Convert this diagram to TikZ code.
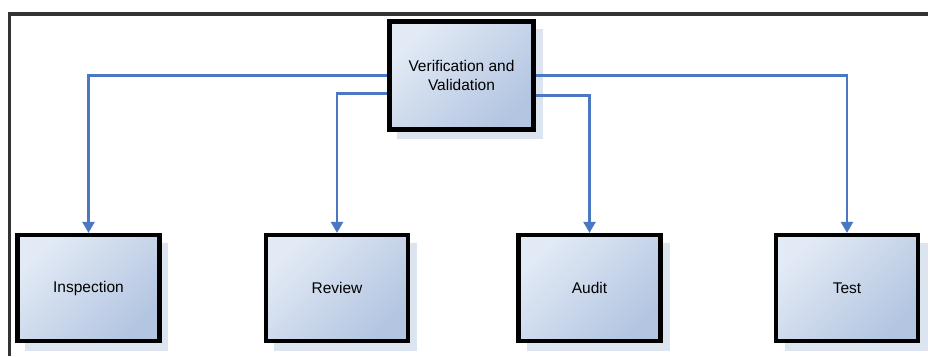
\documentclass[tikz,border=0pt]{standalone}
\usepackage{fontspec}
\setmainfont{Liberation Sans}
\usetikzlibrary{arrows.meta,shadings}
\definecolor{boxlight}{HTML}{E2EAF5}
\definecolor{boxdark}{HTML}{B3C5E1}
\definecolor{shadowc}{HTML}{DCE4F0}
\definecolor{linkc}{HTML}{4A78C2}
\definecolor{framec}{HTML}{333333}
\tikzset{
  boxnode/.style={draw=black, line width=4.2pt, minimum width=142pt, minimum height=106pt,
    inner sep=0pt, align=center, font=\fontsize{15.5}{19}\selectfont,
    left color=boxlight, right color=boxdark, shading angle=45},
  link/.style={draw=linkc, line width=2.4pt, -{Triangle[length=11pt,width=12pt]}},
  framel/.style={draw=framec, line width=3.8pt}
}
\begin{document}
\begin{tikzpicture}[x=1pt,y=1pt]
\useasboundingbox (0,0) rectangle (928,356);
\fill[white] (0,0) rectangle (928,356);
% frame
\draw[framel] (9.5,0) -- (9.5,342) -- (928,342);
% shadows
\fill[shadowc] (397,217) rectangle (543,227);
\fill[shadowc] (533,217) rectangle (543,327);
\foreach \x in {16,265,518,776}{
  \fill[shadowc] (\x+9,5) rectangle (\x+152,14);
  \fill[shadowc] (\x+142,5) rectangle (\x+152,113);
}
% nodes
\node[boxnode, minimum width=144pt, minimum height=108pt] (vv) at (461.5,280.5) {Verification and\\Validation};
\node[boxnode] (insp) at (88.5,68) {Inspection};
\node[boxnode] (rev) at (337,68) {Review};
\node[boxnode] (aud) at (589.5,68) {Audit};
\node[boxnode] (test) at (847,68) {Test};
% connectors
\coordinate (l1) at ([yshift=0pt]vv.west);
\coordinate (l2) at ([yshift=-18pt]vv.west);
\coordinate (r1) at ([yshift=0pt]vv.east);
\coordinate (r2) at ([yshift=-20pt]vv.east);
\draw[link] (l1) -| (insp.north);
\draw[link] (l2) -| (rev.north);
\draw[link] (r2) -| (aud.north);
\draw[link] (r1) -| (test.north);
\end{tikzpicture}
\end{document}
